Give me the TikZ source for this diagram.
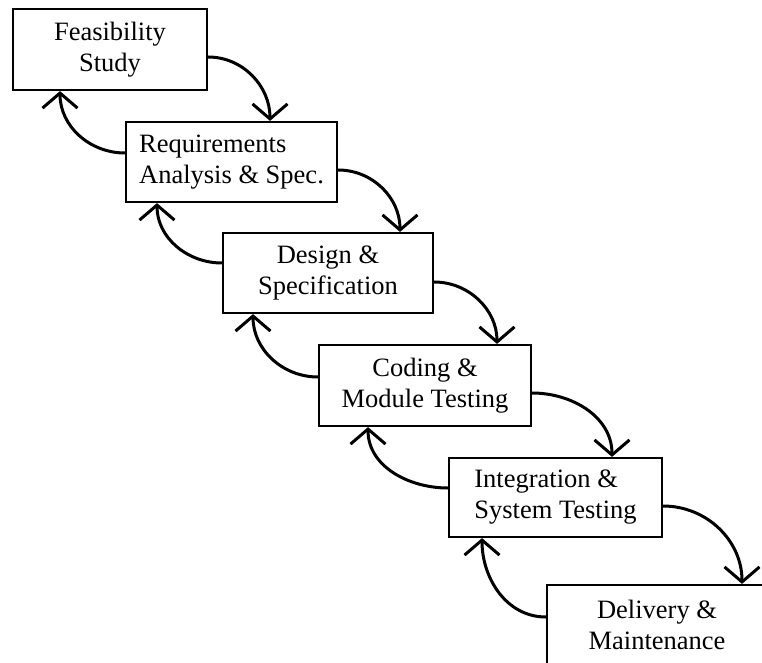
\documentclass[tikz,border=0pt]{standalone}
\usepackage{fontspec}
\setmainfont{Liberation Serif}
\usetikzlibrary{arrows.meta}
\tikzset{
  stage/.style={draw, rectangle, line width=2.2pt, inner sep=0pt,
    font=\fontsize{26.5}{31}\selectfont, align=center},
  stageleft/.style={stage, align=left},
  flow/.style={line width=3pt, line cap=round,
    -{Straight Barb[length=15pt,width=35pt,line width=3pt]}},
}
\begin{document}
\begin{tikzpicture}[x=1pt,y=1pt]
\useasboundingbox (0,0) rectangle (762,662);
\clip (0,0) rectangle (762,662);
\fill[white] (0,0) rectangle (762,662);

\node[stage, minimum width=194pt, minimum height=81pt] (fs) at (110,612.5) {Feasibility\\Study};
\node[stageleft, minimum width=211pt, minimum height=80pt] (rq) at (231.5,500) {Requirements\\Analysis \& Spec.};
\node[stage, minimum width=210pt, minimum height=80pt] (ds) at (328,389) {Design \&\\Specification};
\node[stage, minimum width=212pt, minimum height=81pt] (cd) at (425,276.5) {Coding \&\\Module Testing};
\node[stageleft, minimum width=213pt, minimum height=79pt] (it) at (555.5,164.5) {Integration \&\\System Testing};
\node[stage, minimum width=220pt, minimum height=80pt] (dl) at (657,37) {Delivery \&\\Maintenance};

% forward arrows
\draw[flow] ([yshift=-7.5pt]fs.east) to[out=0,in=90] ([xshift=38.5pt]rq.north);
\draw[flow] ([yshift=-8pt]rq.east) to[out=0,in=90] ([xshift=72pt]ds.north);
\draw[flow] ([yshift=-9pt]ds.east) to[out=0,in=90] ([xshift=72pt]cd.north);
\draw[flow] ([yshift=-7.5pt]cd.east) to[out=0,in=90] ([xshift=56.5pt]it.north);
\draw[flow] ([yshift=-8.5pt]it.east) to[out=0,in=90] ([xshift=85pt]dl.north);

% backward arrows
\draw[flow] ([yshift=9pt]rq.west) to[out=180,in=-90] ([xshift=-50pt]fs.south);
\draw[flow] ([yshift=10pt]ds.west) to[out=180,in=-90] ([xshift=-74.5pt]rq.south);
\draw[flow] ([yshift=8.5pt]cd.west) to[out=180,in=-90] ([xshift=-75pt]ds.south);
\draw[flow] ([yshift=9.5pt]it.west) to[out=180,in=-90] ([xshift=-57pt]cd.south);
\draw[flow] ([yshift=8pt]dl.west) to[out=180,in=-90] ([xshift=-73.5pt]it.south);
\end{tikzpicture}
\end{document}
